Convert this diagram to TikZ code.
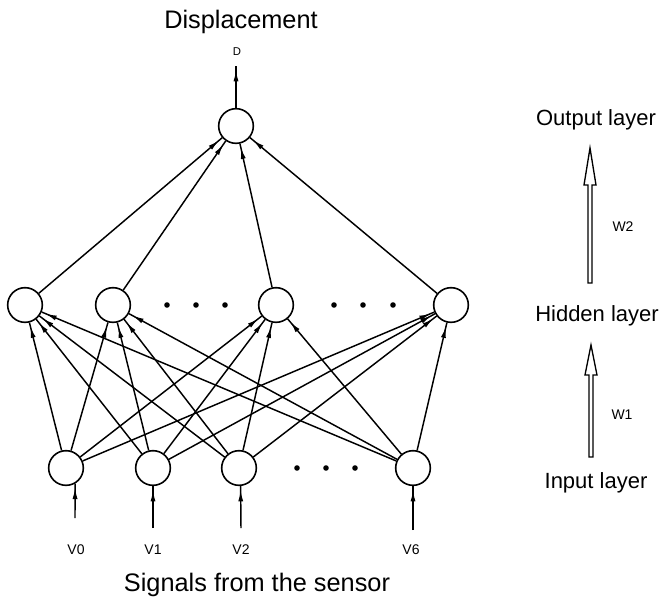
\documentclass[tikz,border=0pt]{standalone}
\usepackage{fontspec}
\setmainfont{Liberation Sans}
\usetikzlibrary{arrows.meta,decorations.markings}
\begin{document}
\begin{tikzpicture}[x=0.75pt,y=-0.75pt,
  neuron/.style={circle,draw,line width=1.2pt,minimum size=26pt,inner sep=0pt},
  conn/.style={line width=1.1pt,postaction={decorate},
    decoration={markings,mark=at position -3pt with {\arrow{Latex[length=8.5pt,width=3.8pt]}}}},
  title/.style={font=\fontsize{19}{22}\selectfont,inner sep=0pt},
  layerlbl/.style={font=\fontsize{16.5}{19}\selectfont,inner sep=0pt},
  smalllbl/.style={font=\fontsize{10.5}{12}\selectfont,inner sep=0pt},
  tinylbl/.style={font=\fontsize{8.5}{10}\selectfont,inner sep=0pt},
  hollow/.style={line width=1pt,fill=white,line join=miter},
  dot/.style={fill=black}
]
\useasboundingbox (0,0) rectangle (663,596);

% titles
\node[title] (ttop) at (241,22) {Displacement};
\node[title] (tbot) at (257,585) {Signals from the sensor};

% output
\node[neuron] (o) at (236,126) {};
\node[tinylbl] (dl) at (237,52) {D};
\coordinate (dtip) at (236,66);
\draw[conn] (o) -- (dtip);

% hidden
\node[neuron] (h1) at (25,305) {};
\node[neuron] (h2) at (113,305) {};
\node[neuron] (h3) at (276,305) {};
\node[neuron] (h4) at (451,305) {};

% input
\node[neuron] (i1) at (66,468) {};
\node[neuron] (i2) at (153,468) {};
\node[neuron] (i3) at (239,468) {};
\node[neuron] (i4) at (413,468) {};

% dots
\foreach \x in {167,196,225,334,363,393} \fill[dot] (\x,305) circle[radius=2.1pt];
\foreach \x in {297,326,355} \fill[dot] (\x,468) circle[radius=2.1pt];

% connections
\foreach \i in {i1,i2,i3,i4}
  \foreach \h in {h1,h2,h3,h4}
    \draw[conn] (\i) -- (\h);
\foreach \h in {h1,h2,h3,h4}
  \draw[conn] (\h) -- (o);

% input signals
\coordinate (s0) at (75,518);
\coordinate (s1) at (153,528);
\coordinate (s2) at (241,528);
\coordinate (s6) at (413,530);
\draw[conn] (s0) -- (i1.-60);
\draw[conn] (s1) -- (i2.south);
\draw[conn] (s2) -- (i3.-85);
\draw[conn] (s6) -- (i4.south);
\node[smalllbl] (v0) at (76,550) {V0};
\node[smalllbl] (v1) at (153,550) {V1};
\node[smalllbl] (v2) at (241,550) {V2};
\node[smalllbl] (v6) at (411,550) {V6};

% right side legend
\node[layerlbl] (lo) at (596,120) {Output layer};
\node[layerlbl] (lh) at (597,316) {Hidden layer};
\node[layerlbl] (li) at (596,483) {Input layer};
\draw[hollow] (588,283) -- (588,185) -- (584,185) -- (590,148) -- (596,185) -- (592,185) -- (592,283) -- cycle;
\draw[hollow] (589,457) -- (589,375) -- (585,375) -- (591,345) -- (597,375) -- (593,375) -- (593,457) -- cycle;
\node[smalllbl] (w2) at (623,227) {W2};
\node[smalllbl] (w1) at (622,415) {W1};
\end{tikzpicture}
\end{document}
